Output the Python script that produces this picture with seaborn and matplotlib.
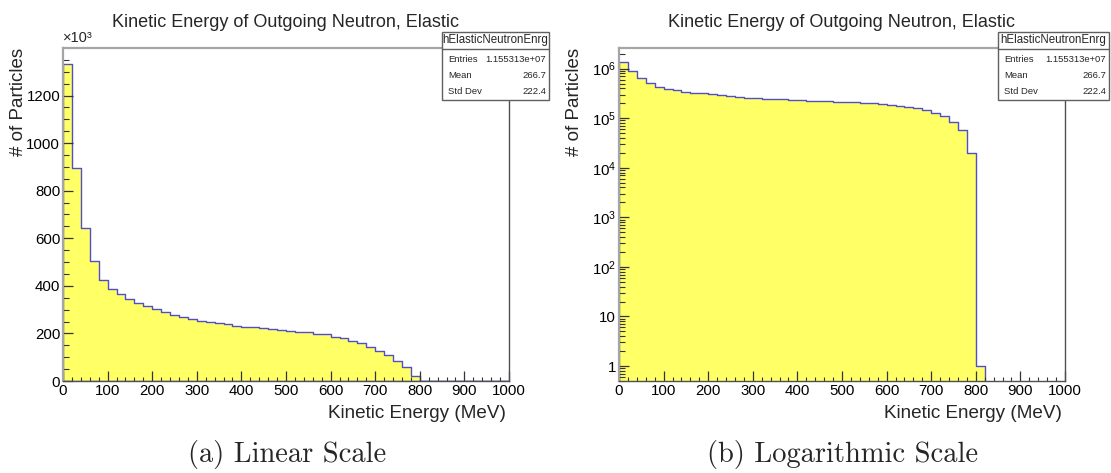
import numpy as np
import matplotlib
matplotlib.use("Agg")
import matplotlib.pyplot as plt
from matplotlib.ticker import MultipleLocator, FuncFormatter, LogLocator, NullFormatter
from matplotlib.patches import Rectangle
from matplotlib.lines import Line2D
import seaborn as sns

# Histogram: 50 bins of 20 MeV from 0 to 1000 MeV
bin_edges = list(range(0, 1001, 20))
counts = [
    1333000, 894000, 644000, 503000, 426000, 387000, 365000, 344000, 328000, 316000,
    301000, 288000, 278000, 270000, 260000, 253000, 247000, 242000, 238000, 233000,
    229000, 225000, 221000, 218000, 214000, 211000, 208000, 204000, 199000, 196000,
    187000, 179000, 169000, 158000, 144000, 127000, 109000, 85000, 57000, 20000,
    1, 0, 0, 0, 0, 0, 0, 0, 0, 0,
]

title = "Kinetic Energy of Outgoing Neutron, Elastic"
x_label = "Kinetic Energy (MeV)"
y_label = "# of Particles"
stats_name = "hElasticNeutronEnrg"
stats_rows = [("Entries", "1.155313e+07"), ("Mean", "266.7"), ("Std Dev", "222.4")]
captions = ["(a) Linear Scale", "(b) Logarithmic Scale"]

sns.set_theme(style="ticks")
plt.rcParams["font.family"] = ["Liberation Sans", "DejaVu Sans"]
plt.rcParams["mathtext.fontset"] = "custom"
plt.rcParams["mathtext.rm"] = "Liberation Sans"
plt.rcParams["mathtext.it"] = "Liberation Sans:italic"

W, H = 1111, 473
fig = plt.figure(figsize=(W / 100, H / 100), dpi=100)
fig.patch.set_facecolor("white")

def fx(px):
    return px / W

def fy(py):
    return 1 - py / H

ax_left_px = [63, 619]
ax_w_px, ax_top_px, ax_bot_px = 446, 48, 381

centers = [(a + b) / 2 for a, b in zip(bin_edges[:-1], bin_edges[1:])]
fill_col = "#ffff66"
line_col = "#4f4fc9"

axes = []
for i, left in enumerate(ax_left_px):
    ax = fig.add_axes([fx(left), fy(ax_bot_px), ax_w_px / W, (ax_bot_px - ax_top_px) / H])
    ax.set_facecolor("white")
    sns.histplot(x=centers, weights=counts, bins=bin_edges, element="step", fill=True,
                 facecolor=fill_col, edgecolor=line_col, linewidth=1.0, ax=ax)
    ax.set_xlim(0, 1000)
    ax.set_axisbelow(False)
    axes.append(ax)

    # frame
    for side in ["top", "left"]:
        ax.spines[side].set_color("#a5a5a5")
        ax.spines[side].set_linewidth(1.6)
    for side in ["bottom", "right"]:
        ax.spines[side].set_color("#505050")
        ax.spines[side].set_linewidth(1.0)
    for sp in ax.spines.values():
        sp.set_zorder(5)

    ax.xaxis.set_major_locator(MultipleLocator(100))
    ax.xaxis.set_minor_locator(MultipleLocator(20))
    ax.tick_params(axis="both", which="both", direction="in", top=False, right=False,
                   colors="#333333", labelcolor="black", labelsize=10.8)
    ax.tick_params(axis="x", which="major", length=7.5, width=0.9, pad=2)
    ax.tick_params(axis="x", which="minor", length=3.2, width=0.8)
    ax.tick_params(axis="y", which="major", length=7.5, width=0.9, pad=2)
    ax.tick_params(axis="y", which="minor", length=4.5, width=0.8)

    ax.set_title(title, fontsize=13, pad=15)
    ax.set_xlabel(x_label, fontsize=13.6, loc="right")
    ax.set_ylabel(y_label, fontsize=13.5, loc="top")
    ax.yaxis.set_label_coords(-0.08, 1.0)
    ax.xaxis.set_label_coords(0.992, -0.072)

# linear panel
ax = axes[0]
ax.set_ylim(0, max(counts) * 1.05)
ax.yaxis.set_major_locator(MultipleLocator(200000))
ax.yaxis.set_minor_locator(MultipleLocator(50000))
ax.yaxis.set_major_formatter(FuncFormatter(lambda v, p: f"{v / 1000:.0f}"))
ax.text(0.0, 1.01, "×10³", transform=ax.transAxes, fontsize=10.5, ha="left", va="bottom")

# log panel
ax = axes[1]
ax.set_yscale("log")
ax.set_ylim(0.5, 2.6e6)
ax.yaxis.set_major_locator(LogLocator(base=10, numticks=20))
ax.yaxis.set_minor_locator(LogLocator(base=10, subs=np.arange(2, 10), numticks=20))
ax.yaxis.set_minor_formatter(NullFormatter())

def log_fmt(v, p):
    n = int(round(np.log10(v)))
    if n == 0:
        return "1"
    if n == 1:
        return "10"
    return r"$\mathregular{10^{%d}}$" % n

ax.yaxis.set_major_formatter(FuncFormatter(log_fmt))

# statistics boxes
box_specs = [(442, 549), (998, 1109)]
for (x0, x1) in box_specs:
    y0, yh, y1 = 32, 49, 100
    fig.patches.append(Rectangle((fx(x0), fy(y1)), fx(x1 - x0), (y1 - y0) / H,
                                 transform=fig.transFigure, facecolor="white",
                                 edgecolor="#606060", linewidth=1.0, zorder=10))
    fig.lines.append(Line2D([fx(x0), fx(x1)], [fy(yh), fy(yh)], transform=fig.transFigure,
                            color="#606060", linewidth=1.0, zorder=11))
    fig.text(fx((x0 + x1) / 2), fy((y0 + yh) / 2), stats_name, ha="center", va="center",
             fontsize=8.3, zorder=12)
    for k, (lab, val) in enumerate(stats_rows):
        yy = 59 + 16 * k
        fig.text(fx(x0 + 6), fy(yy), lab, ha="left", va="center", fontsize=6.8, zorder=12)
        fig.text(fx(x1 - 3), fy(yy), val, ha="right", va="center", fontsize=6.8, zorder=12)

# captions
for cx, cap in zip([287, 843], captions):
    fig.text(fx(cx), fy(462), cap, ha="center", va="baseline", fontsize=20.5,
             family=["cmr10", "DejaVu Serif"])

fig.savefig("out.png", dpi=100)
